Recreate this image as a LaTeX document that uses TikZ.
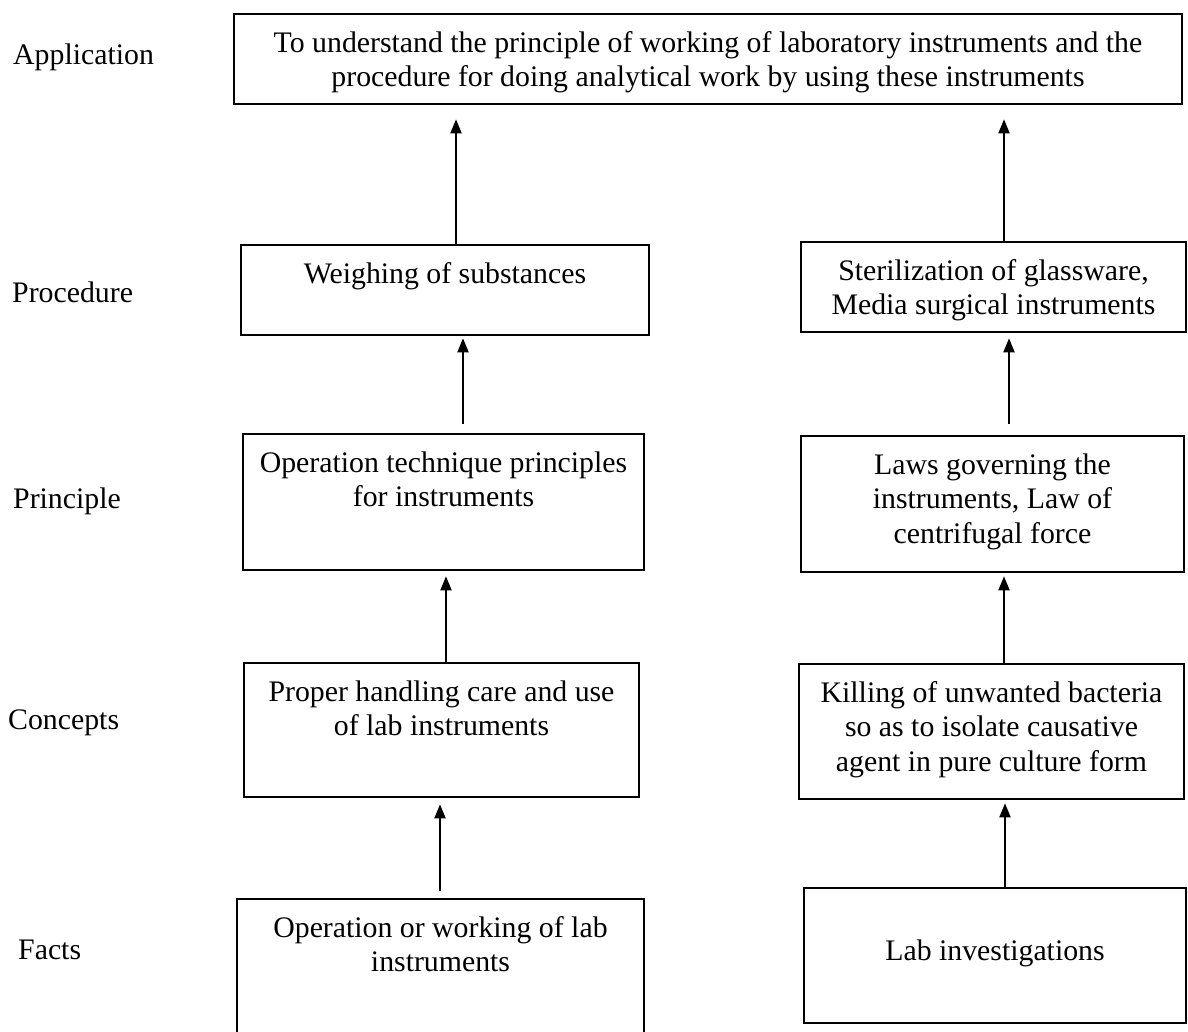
\documentclass[tikz,border=0pt]{standalone}
\usepackage{fontspec}
\setmainfont{Liberation Serif}
\usetikzlibrary{arrows.meta}
% box contents: width, height, gap above the first line, text
\newcommand{\cellbox}[4]{\parbox[c][#2][t]{#1}{\centering\vspace*{#3}\strut #4}}
\begin{document}
\begin{tikzpicture}[x=1pt,y=-1pt,
  every node/.style={font=\fontsize{29.8pt}{34.5pt}\selectfont},
  box/.style={draw, rectangle, line width=2.6pt, inner sep=0pt},
  level/.style={anchor=base west, inner sep=0pt},
  arr/.style={line width=1.9pt, -{Triangle[length=14pt,width=11pt]}}]
\clip (0,0) rectangle (1188,1032);

% level labels
\node[level] (lapp) at (13,65)  {Application};
\node[level] (lpro) at (12,302) {Procedure};
\node[level] (lpri) at (13,508) {Principle};
\node[level] (lcon) at (8,729)  {Concepts};
\node[level] (lfac) at (18,959) {Facts};

% top box
\node[box] (app) at (708,59) {\cellbox{948pt}{90pt}{14pt}{To understand the principle of working of laboratory instruments and the\\procedure for doing analytical work by using these instruments}};

% left column
\node[box] (wgh) at (445,290)   {\cellbox{408pt}{90pt}{14pt}{Weighing of substances}};
\node[box] (opt) at (443.5,502) {\cellbox{401pt}{136pt}{14pt}{Operation technique principles\\for instruments}};
\node[box] (prp) at (441.5,730) {\cellbox{395pt}{134pt}{14pt}{Proper handling care and use\\of lab instruments}};
\node[box] (opw) at (440.5,972) {\cellbox{407pt}{146pt}{14pt}{Operation or working of lab\\instruments}};

% right column
\node[box] (ste) at (993.5,287) {\cellbox{385pt}{90pt}{14pt}{Sterilization of glassware,\\Media surgical instruments}};
\node[box] (law) at (992.5,504) {\cellbox{383pt}{136pt}{14pt}{Laws governing the\\instruments, Law of\\centrifugal force}};
\node[box] (kil) at (991.5,731.5) {\cellbox{385pt}{135pt}{14pt}{Killing of unwanted bacteria\\so as to isolate causative\\agent in pure culture form}};
\node[box] (lab) at (995,955.5) {\cellbox{382pt}{135pt}{48.8pt}{Lab investigations}};

% left column arrows
\draw[arr, shorten <=7pt, shorten >=6pt] ([xshift=-0.5pt]opw.north) -- ([xshift=-1.5pt]prp.south);
\draw[arr, shorten >=5pt] ([xshift=4.5pt]prp.north) -- ([xshift=2.5pt]opt.south);
\draw[arr, shorten <=9pt, shorten >=2pt] ([xshift=19.5pt]opt.north) -- ([xshift=18pt]wgh.south);
\draw[arr, shorten >=14pt] ([xshift=11pt]wgh.north) -- ([xshift=-252pt]app.south);

% right column arrows
\draw[arr, shorten >=3pt] ([xshift=10pt]lab.north) -- ([xshift=13.5pt]kil.south);
\draw[arr, shorten >=3pt] ([xshift=12.5pt]kil.north) -- ([xshift=11.5pt]law.south);
\draw[arr, shorten <=11pt, shorten >=5pt] ([xshift=16.5pt]law.north) -- ([xshift=15.5pt]ste.south);
\draw[arr, shorten >=14pt] ([xshift=10.5pt]ste.north) -- ([xshift=296pt]app.south);
\end{tikzpicture}
\end{document}
